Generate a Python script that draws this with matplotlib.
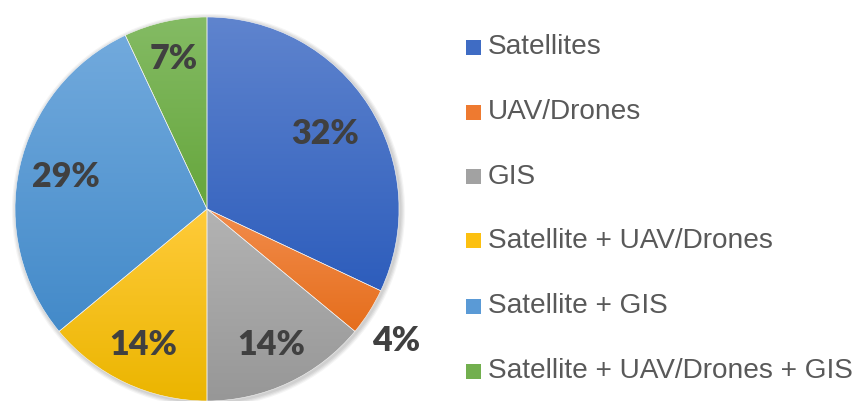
import numpy as np
import matplotlib
matplotlib.use("Agg")
import matplotlib.pyplot as plt
from matplotlib.colors import LinearSegmentedColormap
from matplotlib.patches import Circle, Rectangle

categories = ["Satellites", "UAV/Drones", "GIS", "Satellite + UAV/Drones",
              "Satellite + GIS", "Satellite + UAV/Drones + GIS"]
shares = [32, 4, 14, 14, 29, 7]
labels = ["32%", "4%", "14%", "14%", "29%", "7%"]
top_colors = ["#5F84CE", "#F28C4C", "#B3B3B3", "#FFCB3A", "#72AADD", "#84BB64"]
bottom_colors = ["#2D5DBC", "#E56E1C", "#979797", "#EBB500", "#438AC9", "#66A63C"]
legend_colors = ["#3F6CC4", "#EE7A30", "#A2A2A2", "#FCC010", "#5A9AD6", "#72AF4E"]

W, H = 854, 401
fig = plt.figure(figsize=(W / 100, H / 100), dpi=100)
ax = fig.add_axes([0, 0, 1, 1])

cx, cy, R = 207, 192, 192

# soft shadow
for i, a in enumerate([0.05, 0.05, 0.05, 0.04]):
    ax.add_patch(Circle((cx + 1.5, cy - 1.5), R + 1 + i * 1.2, color="black",
                        alpha=a, lw=0, zorder=0))

wedges, _ = ax.pie(shares, radius=R, center=(cx, cy), startangle=90,
                   counterclock=False, colors=legend_colors,
                   wedgeprops=dict(linewidth=0.4, edgecolor="#f4f4f4"),
                   frame=True)

# gradient fills clipped to each wedge
for w, c0, c1 in zip(wedges, top_colors, bottom_colors):
    v = w.get_path().vertices
    x0, x1 = v[:, 0].min(), v[:, 0].max()
    y0, y1 = v[:, 1].min(), v[:, 1].max()
    cmap = LinearSegmentedColormap.from_list("g", [c1, c0])
    grad = np.linspace(0, 1, 256).reshape(-1, 1)
    im = ax.imshow(grad, cmap=cmap, extent=(x0, x1, y0, y1), origin="lower",
                   aspect="auto", zorder=2, interpolation="bilinear")
    im.set_clip_path(w)
    w.set_facecolor("none")
    w.set_zorder(3)

# percentage labels
cum = np.cumsum([0] + shares[:-1])
total = sum(shares)
rfac = [0.73, 1.2, 0.78, 0.78, 0.755, 0.80]
ang_shift = [0, 2.6, 0, 0, 0, 0]
for s, c, lab, rf, sh in zip(shares, cum, labels, rfac, ang_shift):
    mid = np.deg2rad(90 - (c + s / 2) / total * 360 - sh)
    ax.text(cx + rf * R * np.cos(mid), cy + rf * R * np.sin(mid), lab,
            ha="center", va="center", fontsize=24.5, fontweight="heavy",
            color="#404040", family="Lato", zorder=5)

# legend
ys = [354, 289, 224, 160, 95, 30]
for name, col, y in zip(categories, legend_colors, ys):
    ax.add_patch(Rectangle((466, y - 7.5), 15, 15, facecolor=col, lw=0, zorder=4))
    ax.text(488, y, name, ha="left", va="center", fontsize=20.2,
            color="#595959", family="Liberation Sans", zorder=5)

ax.set_xlim(0, W)
ax.set_ylim(0, H)
ax.set_aspect("equal")
ax.axis("off")
fig.savefig("out.png", dpi=100)
